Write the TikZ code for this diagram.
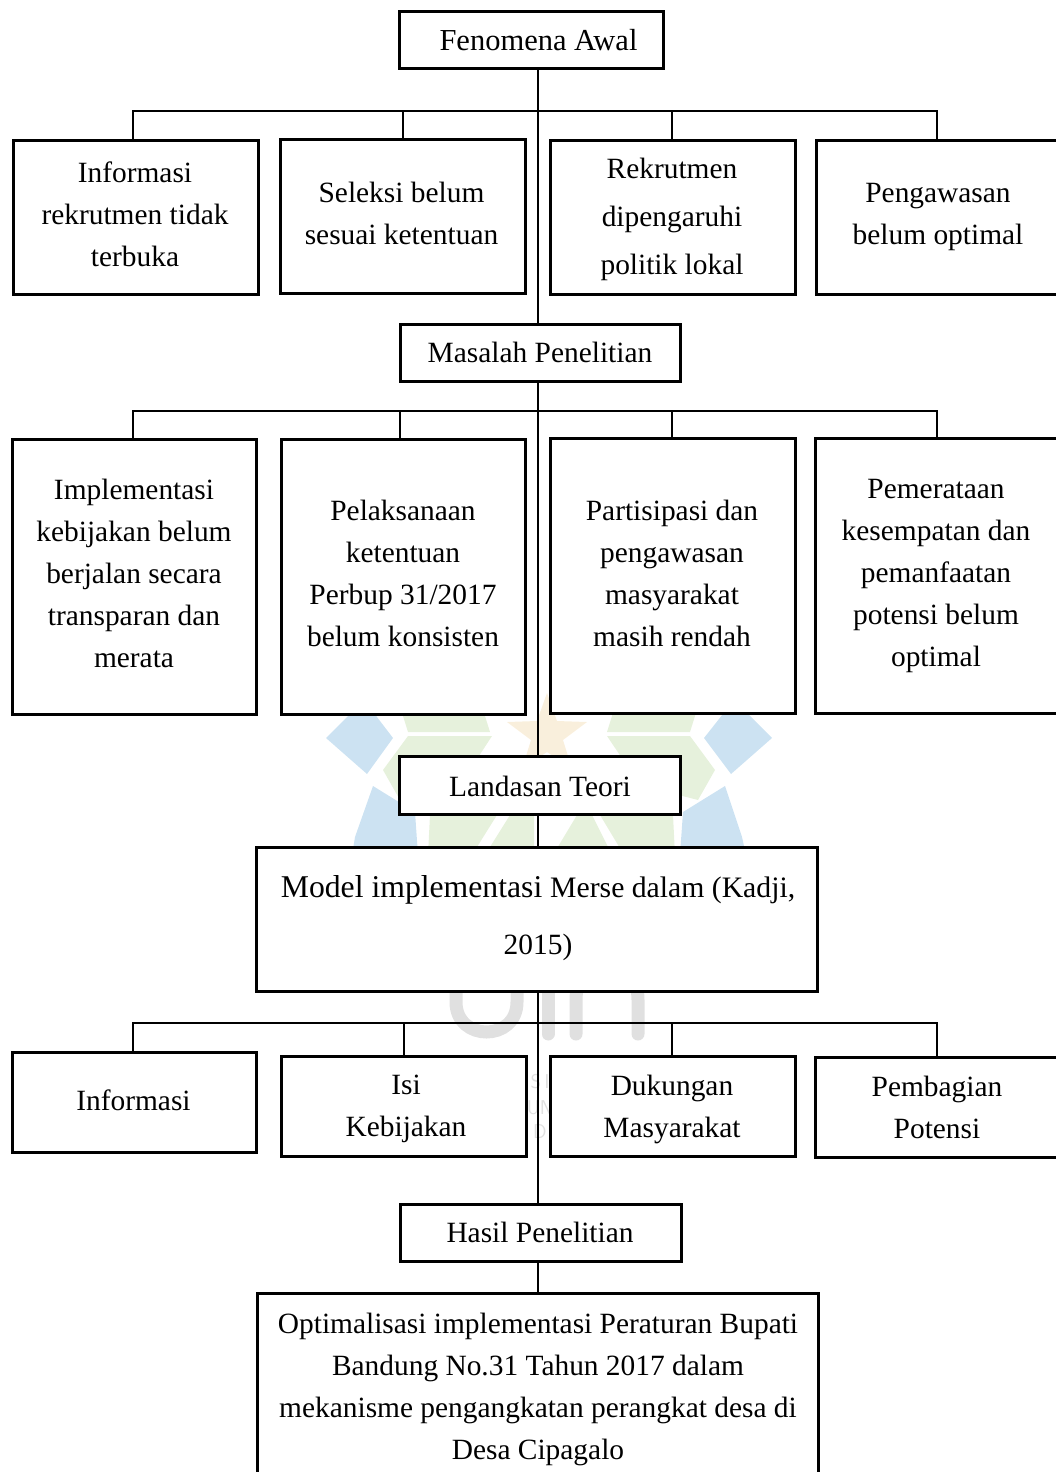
\documentclass[tikz,border=0pt]{standalone}
\usepackage{fontspec}
\setmainfont{Liberation Serif}
\definecolor{wmblue}{HTML}{CCE2F2}
\definecolor{wmgreen}{HTML}{E6F1DC}
\definecolor{wmgold}{HTML}{F9EFDC}
\definecolor{wmgray}{HTML}{E0E0E0}
\tikzset{
  x=1pt,y=-1pt,
  boxa/.style={draw=black,line width=3pt,fill=white,inner sep=0pt},
  txt/.style={align=center,inner sep=0pt,font=\fontsize{29.4}{42}\selectfont},
  link/.style={draw=black,line width=1.05pt},
  uinstroke/.style={draw=wmgray,line width=13pt,line cap=round},
}
\newcommand{\bx}[5]{\node[boxa,minimum width=#4-#2,minimum height=#5-#3] (#1) at ({(#2+#4)/2},{(#3+#5)/2}) {};}
\newcommand{\tx}[5][]{\node[txt,#1] (#2) at (#3,#4) {#5};}
\begin{document}
\begin{tikzpicture}
\useasboundingbox (0,0) rectangle (1056,1472);
% watermark
\fill[wmblue] (326,738)--(364,700)--(393,738)--(367,774)--cycle;
\fill[wmblue] (355,837)--(373,786)--(415,812)--(418,855)--(352,855)--cycle;
\fill[wmblue] (772,738)--(734,700)--(704,738)--(731,774)--cycle;
\fill[wmblue] (742,837)--(725,786)--(683,812)--(680,855)--(746,855)--cycle;
\fill[wmgreen] (398,700)--(408,732)--(490,732)--(480,700)--cycle;
\fill[wmgreen] (408,736)--(492,736)--(460,785)--(400,800)--(383,770)--cycle;
\fill[wmgreen] (430,815)--(497,815)--(472,855)--(428,855)--cycle;
\fill[wmgreen] (510,815)--(534,815)--(534,855)--(485,855)--cycle;
\fill[wmgreen] (617,700)--(607,732)--(690,732)--(700,700)--cycle;
\fill[wmgreen] (607,736)--(690,736)--(715,770)--(698,800)--(640,785)--cycle;
\fill[wmgreen] (673,815)--(600,815)--(624,855)--(675,855)--cycle;
\fill[wmgreen] (577,815)--(592,815)--(612,855)--(553,855)--cycle;
\fill[wmgold] (547,693)--(557,721)--(587,722)--(563,740)--(572,769)--(547,752)--(522,769)--(531,740)--(507,722)--(537,721)--cycle;
\draw[uinstroke] (456,980)--(456,1002) .. controls (456,1042) and (517,1042) .. (517,1002)--(517,980);
\draw[uinstroke] (548,985)--(548,1034);
\draw[uinstroke] (576,1034)--(576,1000) .. controls (576,950) and (638,950) .. (638,1000)--(638,1034);
\node[text=wmgray,font=\fontsize{20}{20}\sffamily] (wm1) at (540,1082) {S\,I};
\node[text=wmgray,font=\fontsize{20}{20}\sffamily] (wm2) at (540,1108) {UN};
\node[text=wmgray,font=\fontsize{20}{20}\sffamily] (wm3) at (540,1132) {D};
% boxes
\bx{f}{399}{12}{663}{69}
\bx{a1}{13}{140}{258}{294}
\bx{a2}{280}{139}{525}{293}
\bx{a3}{550}{140}{795}{294}
\bx{a4}{816}{140}{1060}{294}
\bx{m}{400}{324}{680}{381}
\bx{b1}{12}{439}{256}{714}
\bx{b2}{281}{439}{525}{714}
\bx{b3}{550}{438}{795}{713}
\bx{b4}{815}{438}{1060}{713}
\bx{l}{399}{756}{680}{814}
\bx{t}{256}{847}{817}{991}
\bx{c1}{12}{1052}{256}{1152}
\bx{c2}{281}{1056}{526}{1156}
\bx{c3}{550}{1056}{795}{1156}
\bx{c4}{815}{1057}{1060}{1157}
\bx{h}{400}{1204}{681}{1261}
\bx{r}{257}{1293}{818}{1490}
% connectors
\coordinate (trunk) at (538,0);
\draw[link] (f.south -| trunk) -- (m.north -| trunk);
\draw[link] (m.south -| trunk) -- (l.north -| trunk);
\draw[link] (l.south -| trunk) -- (t.north -| trunk);
\draw[link] (t.south -| trunk) -- (h.north -| trunk);
\draw[link] (h.south -| trunk) -- (r.north -| trunk);
\coordinate (bus1) at (0,111);
\coordinate (bus2) at (0,411);
\coordinate (bus3) at (0,1023);
\coordinate (d1) at (133,0);
\coordinate (d2) at (403,0);
\coordinate (d3) at (672,0);
\coordinate (d4) at (937,0);
\coordinate (d5) at (400,0);
\coordinate (d6) at (404,0);
\draw[link] (a1.north -| d1) -- (bus1 -| d1) -- (bus1 -| d4) -- (a4.north -| d4);
\draw[link] (bus1 -| d2) -- (a2.north -| d2);
\draw[link] (bus1 -| d3) -- (a3.north -| d3);
\draw[link] (b1.north -| d1) -- (bus2 -| d1) -- (bus2 -| d4) -- (b4.north -| d4);
\draw[link] (bus2 -| d5) -- (b2.north -| d5);
\draw[link] (bus2 -| d3) -- (b3.north -| d3);
\draw[link] (c1.north -| d1) -- (bus3 -| d1) -- (bus3 -| d4) -- (c4.north -| d4);
\draw[link] (bus3 -| d6) -- (c2.north -| d6);
\draw[link] (bus3 -| d3) -- (c3.north -| d3);
% texts
\tx[font=\fontsize{30.5}{42}\selectfont]{tf}{538.5}{40}{Fenomena Awal}
\tx{ta1}{135}{214}{Informasi\\rekrutmen tidak\\terbuka}
\tx{ta2}{401.5}{213}{Seleksi belum\\sesuai ketentuan}
\tx[font=\fontsize{29.4}{48}\selectfont]{ta3}{672}{219}{Rekrutmen\\dipengaruhi\\politik lokal}
\tx{ta4}{938}{217}{Pengawasan\\belum optimal}
\tx{tm}{540}{352}{Masalah Penelitian}
\tx{tb1}{134}{573}{Implementasi\\kebijakan belum\\berjalan secara\\transparan dan\\merata}
\tx{tb2}{403}{573}{Pelaksanaan\\ketentuan\\Perbup 31/2017\\belum konsisten}
\tx{tb3}{672}{573}{Partisipasi dan\\pengawasan\\masyarakat\\masih rendah}
\tx{tb4}{936}{576}{Pemerataan\\kesempatan dan\\pemanfaatan\\potensi belum\\optimal}
\tx{tl}{540}{786}{Landasan Teori}
\tx[font=\fontsize{31.7}{57}\selectfont]{tt}{538}{918}{Model implementasi {\fontsize{29.7}{57}\selectfont Merse dalam (Kadji,}\\{\fontsize{29.4}{57}\selectfont 2015)}}
\tx{tc1}{133.5}{1100}{Informasi}
\tx{tc2}{406}{1109}{Isi\\Kebijakan}
\tx{tc3}{672}{1109}{Dukungan\\Masyarakat}
\tx{tc4}{937}{1107.5}{Pembagian\\Potensi}
\tx{th}{540}{1232}{Hasil Penelitian}
\tx{tr}{538}{1389}{Optimalisasi implementasi Peraturan Bupati\\Bandung No.31 Tahun 2017 dalam\\mekanisme pengangkatan perangkat desa di\\Desa Cipagalo}
\end{tikzpicture}
\end{document}
